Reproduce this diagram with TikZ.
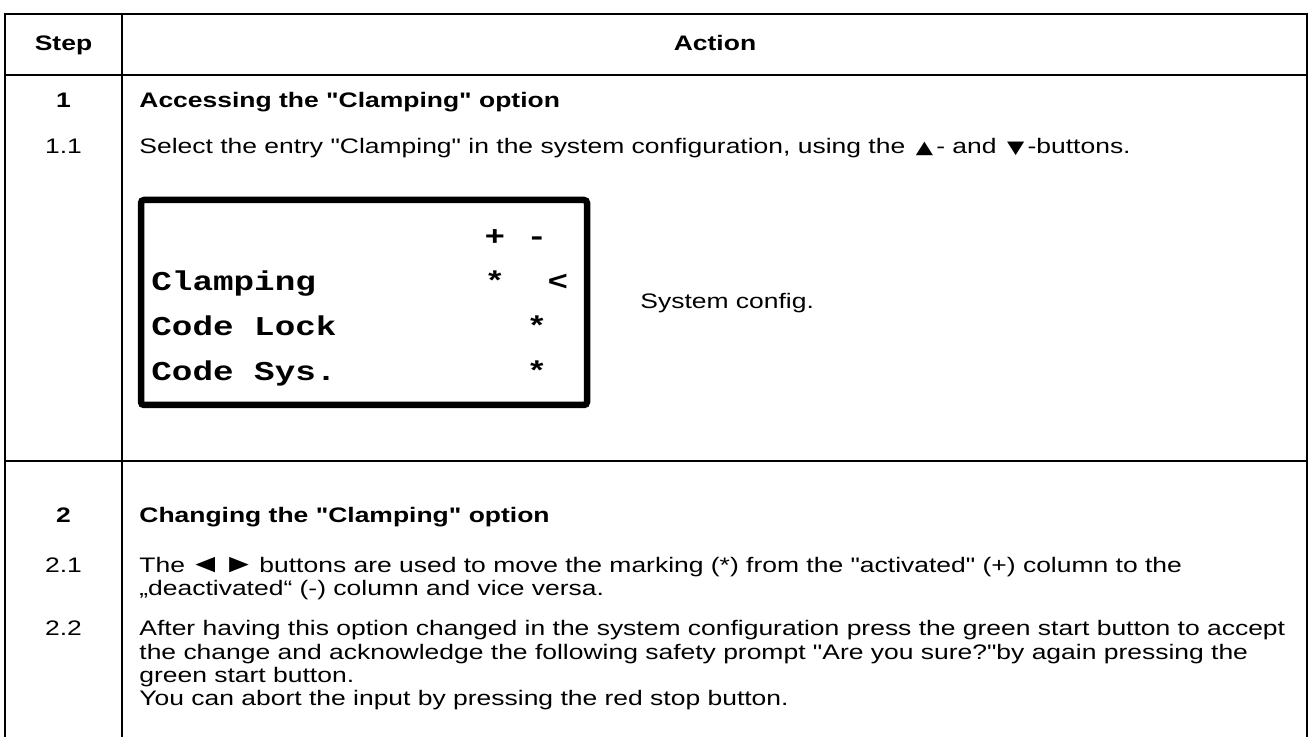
\documentclass[tikz,border=0pt]{standalone}
\usepackage{fontspec}
\setmainfont{Liberation Sans}[Ligatures=TeXOff, FakeStretch=1.26]
\newfontfamily\lcdfont{Liberation Mono}[Ligatures=TeXOff, FakeStretch=1.26]
\newfontfamily\symfont{DejaVu Sans}[FakeStretch=1.26]
\newcommand\symtri[1]{\hspace{1.6pt}{\symfont\fontsize{8.9}{12}\selectfont #1}\hspace{1.6pt}}
\newcommand\symptr[1]{\makebox[13.1pt]{\fontsize{13}{12}\selectfont #1}}
\tikzset{
  gridline/.style={line width=1pt},
  txt/.style={anchor=base west, inner sep=0pt, font=\fontsize{10.5}{12}\selectfont},
  hdr/.style={anchor=base west, inner sep=0pt, font=\fontsize{10.5}{12}\selectfont\bfseries},
  num/.style={anchor=base, inner sep=0pt, font=\fontsize{10.5}{12}\selectfont},
  bnum/.style={anchor=base, inner sep=0pt, font=\fontsize{10.5}{12}\selectfont\bfseries},
  lcd/.style={anchor=base west, inner sep=0pt, font=\fontsize{13.6}{16}\lcdfont\bfseries},
  lcdsym/.style={anchor=base, inner sep=0pt, font=\fontsize{13.6}{16}\lcdfont\bfseries},
  lcdbox/.style={line width=3.25pt, rounded corners=1.5pt},
}
\begin{document}
\begin{tikzpicture}[x=0.5pt,y=-0.5pt]
\useasboundingbox[fill=white] (0,0) rectangle (1312,737);
% table grid
\draw[gridline] (5,737) -- (5,14) -- (1307,14) -- (1307,737);
\draw[gridline] (122,14) -- (122,737);
\draw[gridline] (5,75) -- (1307,75);
\draw[gridline] (5,461) -- (1307,461);
% header
\node[bnum] (hstep) at (63.5,51) {Step};
\node[bnum] (haction) at (715,51) {Action};
% step 1
\node[bnum] (n1) at (63.5,108) {1};
\node[hdr] (t1) at (139,108) {Accessing the "Clamping" option};
\node[num] (n11) at (63.5,154) {1.1};
\node[txt] (t11) at (139,154) {Select the entry "Clamping" in the system configuration, using the \symtri{▲}- and \symtri{▼}-buttons.};
% LCD
\draw[lcdbox] (141,200) rectangle (587,405);
\node[lcdsym] (plus) at (495,246) {+};
\node[lcdsym] (minus) at (537,246) {-};
\node[lcd] (r1) at (151,291) {Clamping};
\node[lcdsym] (r1a) at (495,291) {*};
\node[lcdsym] (r1b) at (558,291) {<};
\node[lcd] (r2) at (151,336) {Code Lock};
\node[lcdsym] (r2a) at (537,336) {*};
\node[lcd] (r3) at (151,381) {Code Sys.};
\node[lcdsym] (r3a) at (537,381) {*};
\node[txt] (sysconf) at (640,309) {System config.};
% step 2
\node[bnum] (n2) at (63.5,523) {2};
\node[hdr] (t2) at (139,523) {Changing the "Clamping" option};
\node[num] (n21) at (63.5,572) {2.1};
\node[txt] (t21a) at (139,572) {The \symptr{◄} \symptr{►} buttons are used to move the marking (*) from the "activated" (+) column to the};
\node[txt] (t21b) at (139,596) {„deactivated“ (-) column and vice versa.};
\node[num] (n22) at (63.5,635) {2.2};
\node[txt] (t22a) at (139,635) {After having this option changed in the system configuration press the green start button to accept};
\node[txt] (t22b) at (139,659) {the change and acknowledge the following safety prompt "Are you sure?"by again pressing the};
\node[txt] (t22c) at (139,682) {green start button.};
\node[txt] (t22d) at (139,705) {You can abort the input by pressing the red stop button.};
\end{tikzpicture}
\end{document}
